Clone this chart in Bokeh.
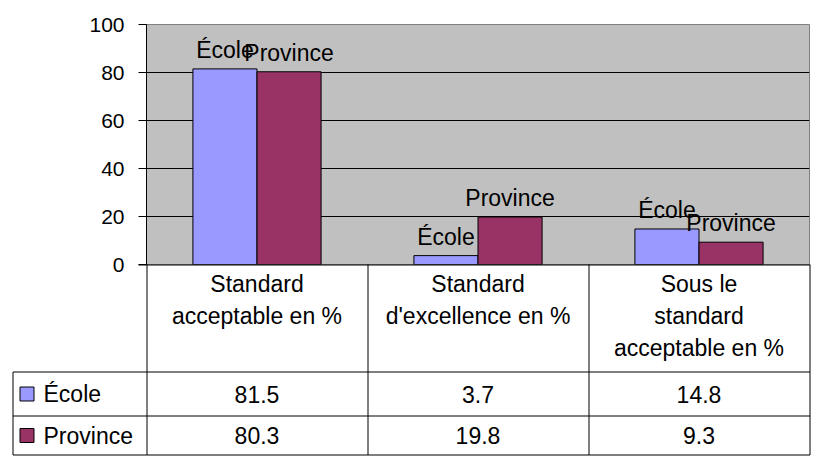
from bokeh.plotting import figure
from bokeh.models import Range1d, FixedTicker, ColumnDataSource
from bokeh.transform import dodge
from bokeh.core.properties import value
from bokeh.embed import file_html
from bokeh.resources import INLINE

# ---- data ----
categories = ["Standard\nacceptable en %", "Standard\nd'excellence en %", "Sous le\nstandard\nacceptable en %"]
series_names = ["École", "Province"]
ecole = [81.5, 3.7, 14.8]
province = [80.3, 19.8, 9.3]
y_ticks = [0, 20, 40, 60, 80, 100]

# ---- style / layout ----
COLORS = ["#9999FF", "#993366"]
FONT = "Liberation Sans"
FS = "23px"
W, H = 817, 456
F_L, F_R, F_T, F_B = 146, 809, 24, 264      # frame edges in page pixels
COL_W = (F_R - F_L) / len(categories)
OFFS = [-0.145, 0.145]
BAR_W = 0.29

# category slots: slot i occupies [i, i+1] on the x axis
slot = [i + 0.5 for i in range(len(categories))]
src = ColumnDataSource(dict(cat=categories, slot=slot, ecole=ecole, province=province))
fields = ["ecole", "province"]

p = figure(width=W, height=H, x_range=Range1d(0, len(categories)),
           y_range=Range1d(0, 100), output_backend="svg", toolbar_location=None,
           min_border_left=F_L, min_border_right=W - F_R,
           min_border_top=F_T, min_border_bottom=H - F_B)
# pixel-space ranges for the data table drawn under the chart
p.extra_x_ranges = {"px": Range1d(F_L, F_R)}
p.extra_y_ranges = {"px": Range1d(F_B, F_T)}

p.xaxis.visible = False
p.xgrid.visible = False
p.background_fill_color = "#C0C0C0"
p.border_fill_color = "white"
p.outline_line_color = "#808080"
p.yaxis.ticker = FixedTicker(ticks=y_ticks)
p.yaxis.major_tick_out = 8
p.yaxis.major_tick_in = 0
p.yaxis.minor_tick_out = 0
p.yaxis.minor_tick_in = 0
p.yaxis.major_label_standoff = 14
p.yaxis.axis_line_color = "black"
p.yaxis.major_tick_line_color = "black"
p.yaxis.major_label_text_font = FONT
p.yaxis.major_label_text_font_size = "21px"
p.yaxis.major_label_text_color = "black"
p.ygrid.grid_line_color = "black"
p.ygrid.grid_line_width = 1

for i, (f, name) in enumerate(zip(fields, series_names)):
    xs = dodge("slot", OFFS[i])
    p.vbar(x=xs, top=f, width=BAR_W, bottom=0, fill_color=COLORS[i],
           line_color="black", line_width=1, source=src)
    p.text(x=xs, y=f, text=value(name), source=src, text_align="center",
           text_baseline="alphabetic", y_offset=-19, text_font=value(FONT),
           text_font_size=FS, text_color="black")

# ---- data table (pixel ranges, drawn at overlay level) ----
PX = dict(x_range_name="px", y_range_name="px", level="overlay")
HEAD_B = 371.5
ROW1_B = 415.5
TAB_B = 454.5
TAB_L = 12.5
ZERO_Y = F_B + 0.5
col_edges = [F_L + i * COL_W + 0.5 for i in range(len(categories) + 1)]

x0 = [F_L - 8, TAB_L, TAB_L, TAB_L, TAB_L] + col_edges
y0 = [ZERO_Y, HEAD_B, ROW1_B, TAB_B, HEAD_B] + [F_B] * len(col_edges)
x1 = [F_R + 0.5, F_R + 0.5, F_R + 0.5, F_R + 0.5, TAB_L] + col_edges
y1 = [ZERO_Y, HEAD_B, ROW1_B, TAB_B, TAB_B] + [TAB_B] * len(col_edges)
p.segment(x0=x0, y0=y0, x1=x1, y1=y1, line_color="black", line_width=1, **PX)

# header text
hx, hy, ht = [], [], []
for i, c in enumerate(categories):
    for j, line in enumerate(c.split("\n")):
        hx.append(F_L + (i + 0.5) * COL_W)
        hy.append(F_B + 19 + 32 * j)
        ht.append(line)
p.text(x=hx, y=hy, text=ht, text_align="center", text_baseline="middle",
       text_font=value(FONT), text_font_size=FS, text_color="black", **PX)

row_centers = [(HEAD_B + ROW1_B) / 2, (ROW1_B + TAB_B) / 2]
for r, vals in enumerate([ecole, province]):
    p.text(x=[F_L + (i + 0.5) * COL_W for i in range(len(vals))], y=[row_centers[r]] * len(vals),
           text=[str(v) for v in vals], text_align="center", text_baseline="middle",
           text_font=value(FONT), text_font_size=FS, text_color="black", **PX)
    p.rect(x=[26.5], y=[row_centers[r]], width=14, height=14, fill_color=COLORS[r],
           line_color="black", line_width=1, **PX)
    p.text(x=[43], y=[row_centers[r]], text=[series_names[r]], text_align="left",
           text_baseline="middle", text_font=value(FONT), text_font_size=FS,
           text_color="black", **PX)

open("out.html", "w").write(file_html(p, INLINE))
